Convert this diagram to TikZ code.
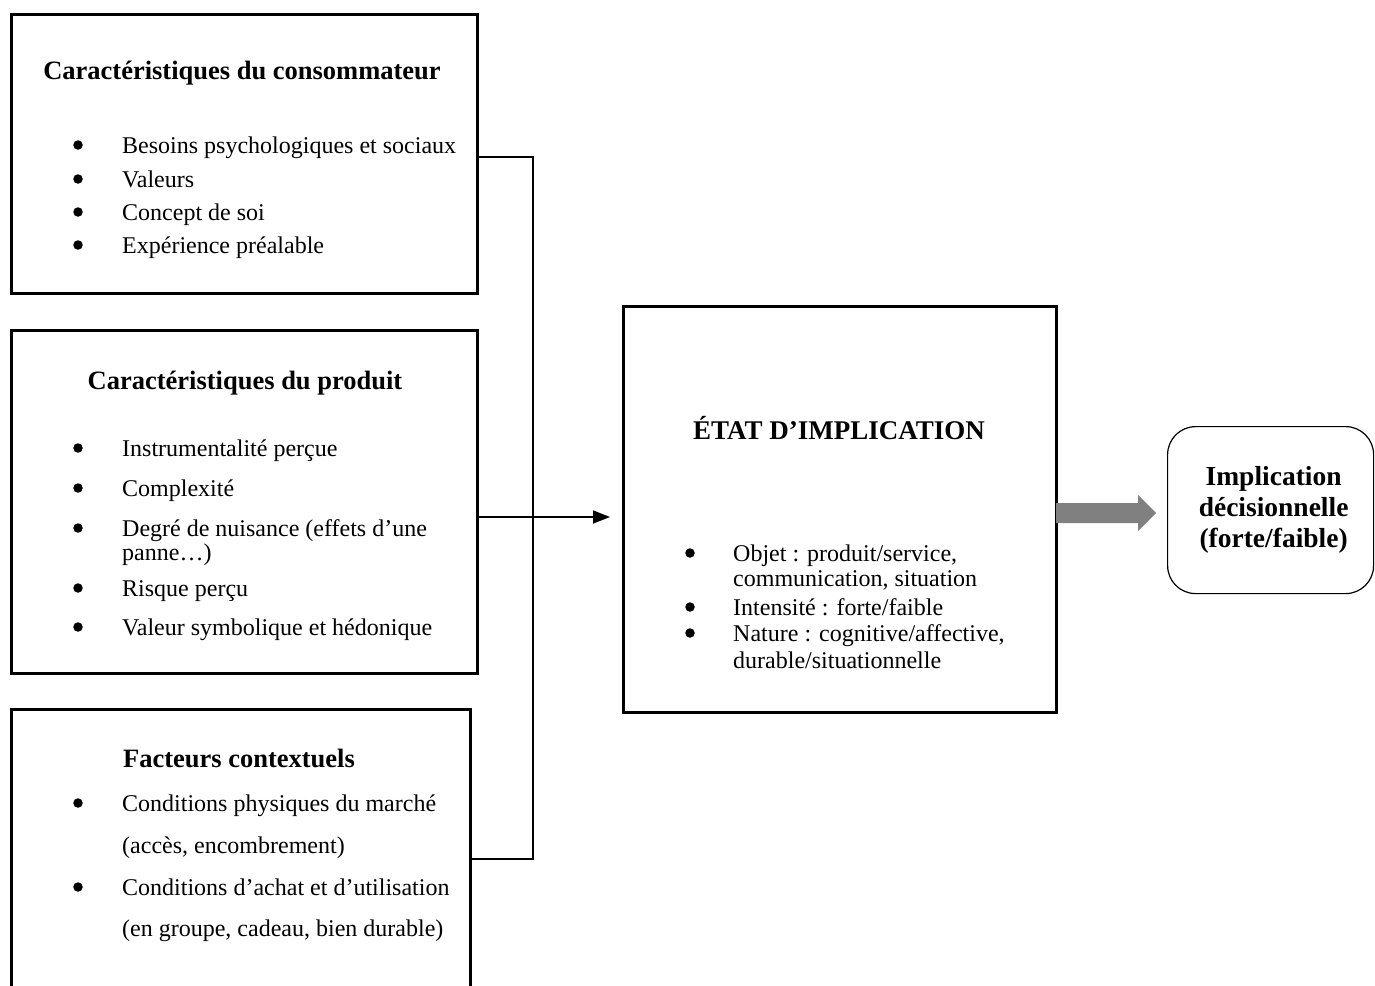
\documentclass[tikz,border=0pt]{standalone}
\usepackage{fontspec}
\setmainfont{Liberation Serif}
\usetikzlibrary{arrows.meta,calc}
\definecolor{arrowgray}{RGB}{128,128,128}
\newcommand\bline[5]{%
  \node[bul] (#1d) at (#2,#4-8) {};
  \node[itm] (#1t) at (#3,#4) {#5};}
\begin{document}
\begin{tikzpicture}[x=1pt,y=-1pt,
  box/.style={draw, line width=2.6pt, anchor=north west, inner sep=0pt},
  conn/.style={line width=1.5pt},
  ttl/.style={font=\fontsize{26.5}{31}\selectfont\bfseries, anchor=base, inner sep=0pt},
  itm/.style={font=\fontsize{24}{28}\selectfont, anchor=base west, inner sep=0pt},
  bul/.style={circle, fill, inner sep=0pt, minimum size=9.5pt}]
\useasboundingbox (0,0) rectangle (1375,985);
\clip (0,0) rectangle (1375,985);

% boxes
\node[box, minimum width=466pt, minimum height=279pt] (b1) at (10,13) {};
\node[box, minimum width=466pt, minimum height=343pt] (b2) at (10,329) {};
\node[box, minimum width=459pt, minimum height=330pt] (b3) at (10,708) {};
\node[box, minimum width=433pt, minimum height=406pt] (b4) at (622,305) {};
\node[draw, line width=1.2pt, rounded corners=28pt, anchor=north west,
      minimum width=206pt, minimum height=167pt] (rb) at (1167,426) {};

% box 1
\node[ttl] (t1) at (242,79) {Caractéristiques du consommateur};
\bline{a1}{78}{122}{153}{Besoins psychologiques et sociaux}
\bline{a2}{78}{122}{187}{Valeurs}
\bline{a3}{78}{122}{220}{Concept de soi}
\bline{a4}{78}{122}{253}{Expérience préalable}

% box 2
\node[ttl] (t2) at (245,389) {Caractéristiques du produit};
\bline{p1}{78}{122}{456}{Instrumentalité perçue}
\bline{p2}{78}{122}{496}{Complexité}
\bline{p3}{78}{122}{536}{Degré de nuisance (effets d’une}
\node[itm] (p3b) at (122,560) {panne…)};
\bline{p4}{78}{122}{596}{Risque perçu}
\bline{p5}{78}{122}{635}{Valeur symbolique et hédonique}

% box 3
\node[ttl] (t3) at (239,767) {Facteurs contextuels};
\bline{c1}{78}{122}{811}{Conditions physiques du marché}
\node[itm] (c1b) at (122,853) {(accès, encombrement)};
\bline{c2}{78}{122}{895}{Conditions d’achat et d’utilisation}
\node[itm] (c2b) at (122,936) {(en groupe, cadeau, bien durable)};

% box 4
\node[ttl, font=\fontsize{27}{31}\selectfont\bfseries] (t4) at (839,439) {ÉTAT D’IMPLICATION};
\bline{e1}{690}{733}{561}{Objet : produit/service,}
\node[itm] (e1b) at (733,586) {communication, situation};
\bline{e2}{690}{733}{615}{Intensité : forte/faible}
\bline{e3}{690}{733}{641}{Nature : cognitive/affective,}
\node[itm] (e3b) at (733,668) {durable/situationnelle};

% right box text
\node[font=\fontsize{27.5}{31}\selectfont\bfseries, align=center, inner sep=0pt]
  (rt) at ($(rb.center)+(3,0)$) {Implication\\décisionnelle\\(forte/faible)};

% connectors
\coordinate (j1) at (533,157);
\coordinate (j2) at (533,859);
\coordinate (ja) at (533,517);
\draw[conn] (b1.east |- j1) -- (j1) -- (j2) -- (b3.east |- j2);
\draw[conn, -{Triangle[length=17pt,width=13pt]}, shorten >=12pt]
  (b2.east |- ja) -- (b4.west |- ja);

% gray block arrow
\fill[arrowgray] (1056,503) -- (1138,503) -- (1138,495) -- (1156,513)
  -- (1138,531) -- (1138,523) -- (1056,523) -- cycle;
\end{tikzpicture}
\end{document}
